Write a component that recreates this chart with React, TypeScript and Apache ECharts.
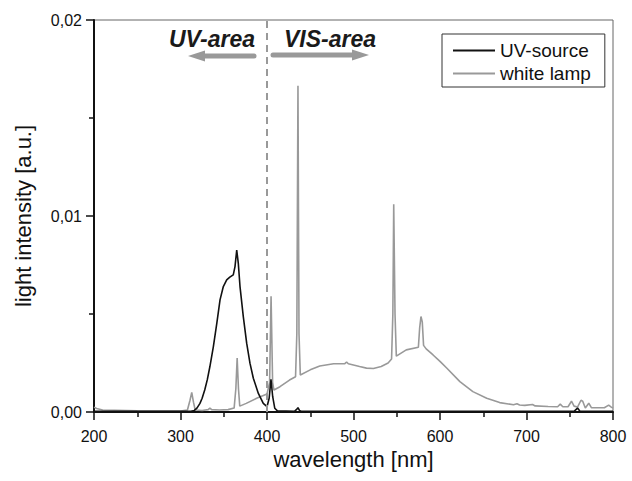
import React, { useEffect, useRef } from "react";
import * as echarts from "echarts";

const xTicks = [200, 300, 400, 500, 600, 700, 800];
const yTicks = [0, 0.01, 0.02];

const whiteWl = [
  200, 203, 210, 250, 300, 308, 311, 313, 315, 317, 325, 332, 334, 336, 345, 355, 362, 364, 365.5, 367,
  368.5, 376, 388, 400, 403, 404.7, 406.5, 408, 415, 426, 433, 434.5, 435.8, 437, 438.5, 450, 461, 477,
  490, 492, 494, 507, 515, 523, 532, 540, 544, 545.5, 546.5, 548, 549.5, 561, 575, 576.5, 578, 579.5,
  581, 584, 592, 600, 608, 623, 638, 654, 669, 685, 689, 692, 698, 707, 710, 725, 736, 739, 742, 748,
  752, 755, 759, 763, 765, 768, 772, 775, 790, 795, 798, 800,
];
const whiteVal = [
  0.00025, 0.00018, 0.0001, 0.00006, 0.00005, 0.0001, 0.0006, 0.001, 0.0005, 0.0001, 0.00008, 0.00012,
  0.0002, 0.00012, 0.0001, 0.00012, 0.0002, 0.0012, 0.00275, 0.0012, 0.0003, 0.00044, 0.0007, 0.00092,
  0.0015, 0.0059, 0.0015, 0.00112, 0.00129, 0.00163, 0.0018, 0.004, 0.01665, 0.004, 0.00189, 0.00215,
  0.00235, 0.00246, 0.00247, 0.00255, 0.00246, 0.00232, 0.00224, 0.00222, 0.00232, 0.0025, 0.0027,
  0.005, 0.0106, 0.005, 0.00285, 0.00317, 0.0033, 0.0043, 0.00487, 0.0046, 0.0034, 0.00322, 0.00291,
  0.00258, 0.00223, 0.00155, 0.00104, 0.0007, 0.00048, 0.00037, 0.00042, 0.00036, 0.00034, 0.00038,
  0.00031, 0.00028, 0.00027, 0.0004, 0.00027, 0.00027, 0.00055, 0.0003, 0.00025, 0.0006, 0.00055,
  0.0002, 0.00045, 0.00022, 0.00022, 0.00035, 0.00025, 0.0002,
];

const uvWl = [
  200, 300, 312, 316, 319, 322.5, 325, 328, 331, 334, 338, 342, 345.7, 349.5, 353.4, 357, 361, 363, 365,
  366.8, 368.8, 372.6, 376.5, 380.3, 384.2, 390, 395.7, 400, 402.5, 404.6, 406.6, 409, 412, 432, 434,
  435.8, 437.5, 440, 755, 759, 762, 800,
];
const uvVal = [
  0.00003, 0.00003, 0.00004, 0.00008, 0.0002, 0.00044, 0.0007, 0.00112, 0.00165, 0.00232, 0.00334,
  0.00453, 0.00572, 0.0064, 0.00674, 0.00688, 0.007, 0.00742, 0.00826, 0.0076, 0.0064, 0.00487, 0.00351,
  0.00249, 0.00172, 0.00095, 0.00044, 0.00027, 0.0007, 0.00167, 0.00078, 0.00019, 0.00006, 0.00004,
  0.00012, 0.00022, 0.00008, 0.00003, 0.00003, 0.0002, 0.00003, 0.00003,
];

const FONT = "'Liberation Sans', Arial, Helvetica, sans-serif";

export default function App() {
  const ref = useRef<HTMLDivElement>(null);
  useEffect(() => {
    if (!ref.current) return;
    const chart = echarts.init(ref.current, null, { renderer: "svg" });
    const white = whiteWl.map((w, i) => [w, whiteVal[i]]);
    const uv = uvWl.map((w, i) => [w, uvVal[i]]);
    chart.setOption({
      animation: false,
      backgroundColor: "#fff",
      grid: {
        left: 94,
        right: 19,
        top: 20,
        bottom: 69,
        show: true,
        borderColor: "#666",
        borderWidth: 1,
      },
      xAxis: {
        type: "value",
        min: xTicks[0],
        max: xTicks[xTicks.length - 1],
        interval: 100,
        name: "wavelength [nm]",
        nameLocation: "middle",
        nameGap: 36,
        nameTextStyle: { fontSize: 22, color: "#111", fontFamily: FONT },
        axisLine: { show: true, onZero: false, lineStyle: { color: "#111", width: 2 } },
        axisTick: { show: true, inside: false, length: 8, lineStyle: { color: "#111", width: 1.5 } },
        minorTick: { show: true, splitNumber: 2, length: 5, lineStyle: { color: "#111", width: 1.5 } },
        axisLabel: { fontSize: 16, color: "#111", margin: 16, fontFamily: FONT },
        splitLine: { show: false },
      },
      yAxis: {
        type: "value",
        min: yTicks[0],
        max: yTicks[yTicks.length - 1],
        interval: 0.01,
        name: "light intensity [a.u.]",
        nameLocation: "middle",
        nameGap: 60,
        nameTextStyle: { fontSize: 22, color: "#111", fontFamily: FONT },
        axisLine: { show: true, onZero: false, lineStyle: { color: "#111", width: 2 } },
        axisTick: { show: true, inside: false, length: 8, lineStyle: { color: "#111", width: 1.5 } },
        minorTick: { show: true, splitNumber: 2, length: 5, lineStyle: { color: "#111", width: 1.5 } },
        axisLabel: {
          fontSize: 16,
          color: "#111",
          margin: 12,
          fontFamily: FONT,
          formatter: (v: number) => v.toFixed(2).replace(".", ","),
        },
        splitLine: { show: false },
      },
      legend: {
        left: 442,
        top: 34,
        orient: "vertical",
        padding: [7, 14, 4, 11],
        icon: "rect",
        itemWidth: 42,
        itemHeight: 2,
        itemGap: 4,
        borderColor: "#333",
        borderWidth: 1,
        textStyle: { fontSize: 19, color: "#111", fontFamily: FONT },
        data: ["UV-source", "white lamp"],
      },
      graphic: [
        {
          type: "text",
          x: 255,
          y: 39,
          style: {
            text: "UV-area",
            fill: "#1a1a1a",
            font: `italic bold 23px ${FONT}`,
            align: "right",
            verticalAlign: "middle",
          },
          z: 100,
        },
        {
          type: "text",
          x: 284,
          y: 39,
          style: {
            text: "VIS-area",
            fill: "#1a1a1a",
            font: `italic bold 23px ${FONT}`,
            align: "left",
            verticalAlign: "middle",
          },
          z: 100,
        },
        {
          type: "line",
          shape: { x1: 254, y1: 56, x2: 200, y2: 56 },
          style: { stroke: "#999", lineWidth: 5, lineCap: "round" },
          z: 100,
        },
        {
          type: "polygon",
          shape: { points: [[188, 56], [205, 50.5], [205, 61.5]] },
          style: { fill: "#999" },
          z: 100,
        },
        {
          type: "line",
          shape: { x1: 273, y1: 55, x2: 355, y2: 55 },
          style: { stroke: "#999", lineWidth: 5, lineCap: "round" },
          z: 100,
        },
        {
          type: "polygon",
          shape: { points: [[369, 55], [352, 49.5], [352, 60.5]] },
          style: { fill: "#999" },
          z: 100,
        },
      ],
      series: [
        {
          name: "UV-source",
          type: "line",
          data: uv,
          symbol: "none",
          lineStyle: { color: "#111", width: 1.6 },
          itemStyle: { color: "#111" },
          z: 3,
        },
        {
          name: "white lamp",
          type: "line",
          data: white,
          symbol: "none",
          lineStyle: { color: "#999", width: 1.6 },
          itemStyle: { color: "#999" },
          z: 2,
          markLine: {
            silent: true,
            symbol: "none",
            label: { show: false },
            lineStyle: { color: "#999", width: 2, type: [7, 5] },
            data: [{ xAxis: 400 }],
          },
        },
      ],
    });
    return () => chart.dispose();
  }, []);
  return <div ref={ref} style={{ width: 632, height: 481, position: "absolute", left: 0, top: 0 }} />;
}
